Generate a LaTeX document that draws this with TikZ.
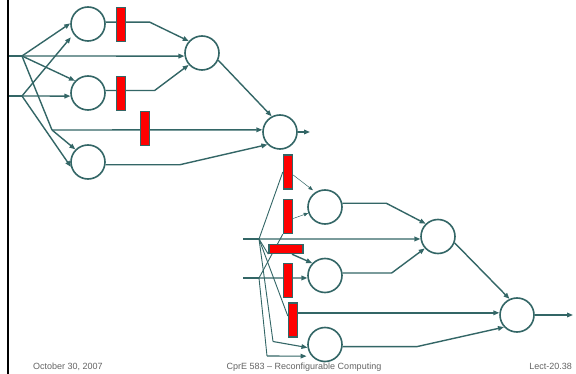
\documentclass[tikz,border=0pt]{standalone}
\usepackage{fontspec}
\setmainfont{Liberation Sans}
\usetikzlibrary{arrows.meta}
\pgfdeclarelayer{bg}
\pgfsetlayers{bg,main}
\definecolor{teal1}{RGB}{51,102,102}
\definecolor{txtgray}{RGB}{100,100,100}
\begin{document}
\begin{tikzpicture}[x=1pt,y=-1pt,
  wire/.style={draw=teal1,line width=1.4pt},
  arr/.style={wire,-{Triangle[length=6pt,width=4.6pt]}},
  fanline/.style={draw=teal1,line width=0.9pt},
  thinarr/.style={draw=teal1,line width=0.5pt,-{Triangle[length=4.5pt,width=3.5pt]}},
  gate/.style={circle,draw=teal1,line width=1.6pt,fill=white,minimum size=34pt,inner sep=0pt},
  regv/.style={rectangle,draw=teal1,line width=1.4pt,fill=red,minimum width=9pt,minimum height=34pt,inner sep=0pt},
  regh/.style={regv,minimum width=34pt,minimum height=9pt},
  foot/.style={font=\fontsize{9}{10}\selectfont,text=txtgray,inner sep=0pt}
]
\useasboundingbox (0,0) rectangle (576,374);
\begin{pgfonlayer}{bg}
\fill[white] (0,0) rectangle (576,374);
\end{pgfonlayer}
\draw[line width=2.2pt] (8,0) -- (8,374);

% gates, upper
\node[gate] (A1) at (88,24) {};
\node[gate] (A2) at (88,93) {};
\node[gate] (A3) at (88,162) {};
\node[gate] (B) at (202,53) {};
\node[gate] (C) at (280,132) {};
% gates, lower
\node[gate] (D1) at (325,207) {};
\node[gate] (D2) at (325,275.5) {};
\node[gate] (D3) at (325,344.5) {};
\node[gate] (E) at (438,236.5) {};
\node[gate] (F) at (517,315) {};

% registers
\node[regv] (R1) at (121,24.5) {};
\node[regv] (R2) at (121,93.5) {};
\node[regv] (R3) at (145,128.5) {};
\node[regv] (R4) at (288,172) {};
\node[regv] (R5) at (288,216.5) {};
\node[regh] (R6) at (286,249) {};
\node[regv] (R7) at (288,280.5) {};
\node[regv] (R8) at (293,320) {};

% points
\coordinate (in1) at (9,56);
\coordinate (in2) at (9,96);
\coordinate (f1) at (22,56);
\coordinate (f2) at (22,96);
\coordinate (c1) at (52,130);
\coordinate (outC) at (310,132);
\coordinate (in3) at (243,239);
\coordinate (in4) at (243,278);
\coordinate (g1) at (259,239);
\coordinate (g2) at (259,278);
\coordinate (d1) at (273,341.5);
\coordinate (d2) at (267,356);
\coordinate (outF) at (573,315);

\begin{pgfonlayer}{bg}
% upper inputs
\draw[wire] (in1) -- (f1);
\draw[arr] (f1) -- (B.190);
\draw[arr] (f1) -- (A1.178);
\draw[arr] (f1) -- (A2.137);
\draw[wire] (f1) -- (c1);
\draw[arr] (c1) -- (C.173);
\draw[arr] (c1) -- (A3.135);
\draw[wire] (in2) -- (f2);
\draw[arr,shorten >=4pt] (f2) -- (A1.215);
\draw[arr] (f2) -- (A2.190);
\draw[arr] (f2) -- (A3.196);
% upper outputs
\draw[arr] (A1.6) -- ++(44,0) -- (B.138);
\draw[arr] (A2.8) -- ++(49,0) -- (B.222);
\draw[arr] (A3.-9) -- ++(74,0) -- (C.225);
\draw[arr] (B.-24) -- (C.118);
\draw[arr] (C.east) -- (outC);

% lower inputs
\draw[wire] (in3) -- (g1);
\draw[arr] (g1) -- (E.188);
\draw[wire] (in4) -- (g2);
\draw[arr] (g2) -- (D2.188);
\draw[fanline] (g1) -- (R4.west);
\draw[thinarr,shorten >=3pt] ([yshift=-3pt]R4.east) -- (D1.123);
\draw[fanline] (g2) -- (R5.south west);
\draw[thinarr] ([yshift=-2pt]R5.east) -- (D1.200);
\draw[fanline] (g1) -- (R6.south west);
\draw[arr] ([xshift=6pt]R6.south) -- (D2.136);
\draw[fanline] (g1) -- ([yshift=4pt]R8.west);
\draw[arr] (R8.east |- F.173) -- (F.173);
\draw[fanline] (g1) -- (d1);
\draw[arr,line width=1.1pt] (d1) -- (D3.190);
\draw[fanline] (g2) -- (d2);
\draw[arr,line width=1.1pt,shorten >=5pt] (d2) -- (D3.221);
% lower outputs
\draw[arr] (D1.12) -- ++(44,0) -- (E.134);
\draw[arr] (D2.8) -- ++(49,0) -- (E.222);
\draw[arr] (D3.-7) -- ++(74,0) -- (F.223);
\draw[arr] (E.-21) -- (F.115);
\draw[arr] (F.east) -- (outF);
\end{pgfonlayer}

% footer
\node[foot,anchor=base west] (date) at (33,369.5) {October 30, 2007};
\node[foot,anchor=base] (course) at (304,369.5) {CprE 583 -- Reconfigurable Computing};
\node[foot,anchor=base east] (lect) at (572,369.5) {Lect-20.38};
\end{tikzpicture}
\end{document}
